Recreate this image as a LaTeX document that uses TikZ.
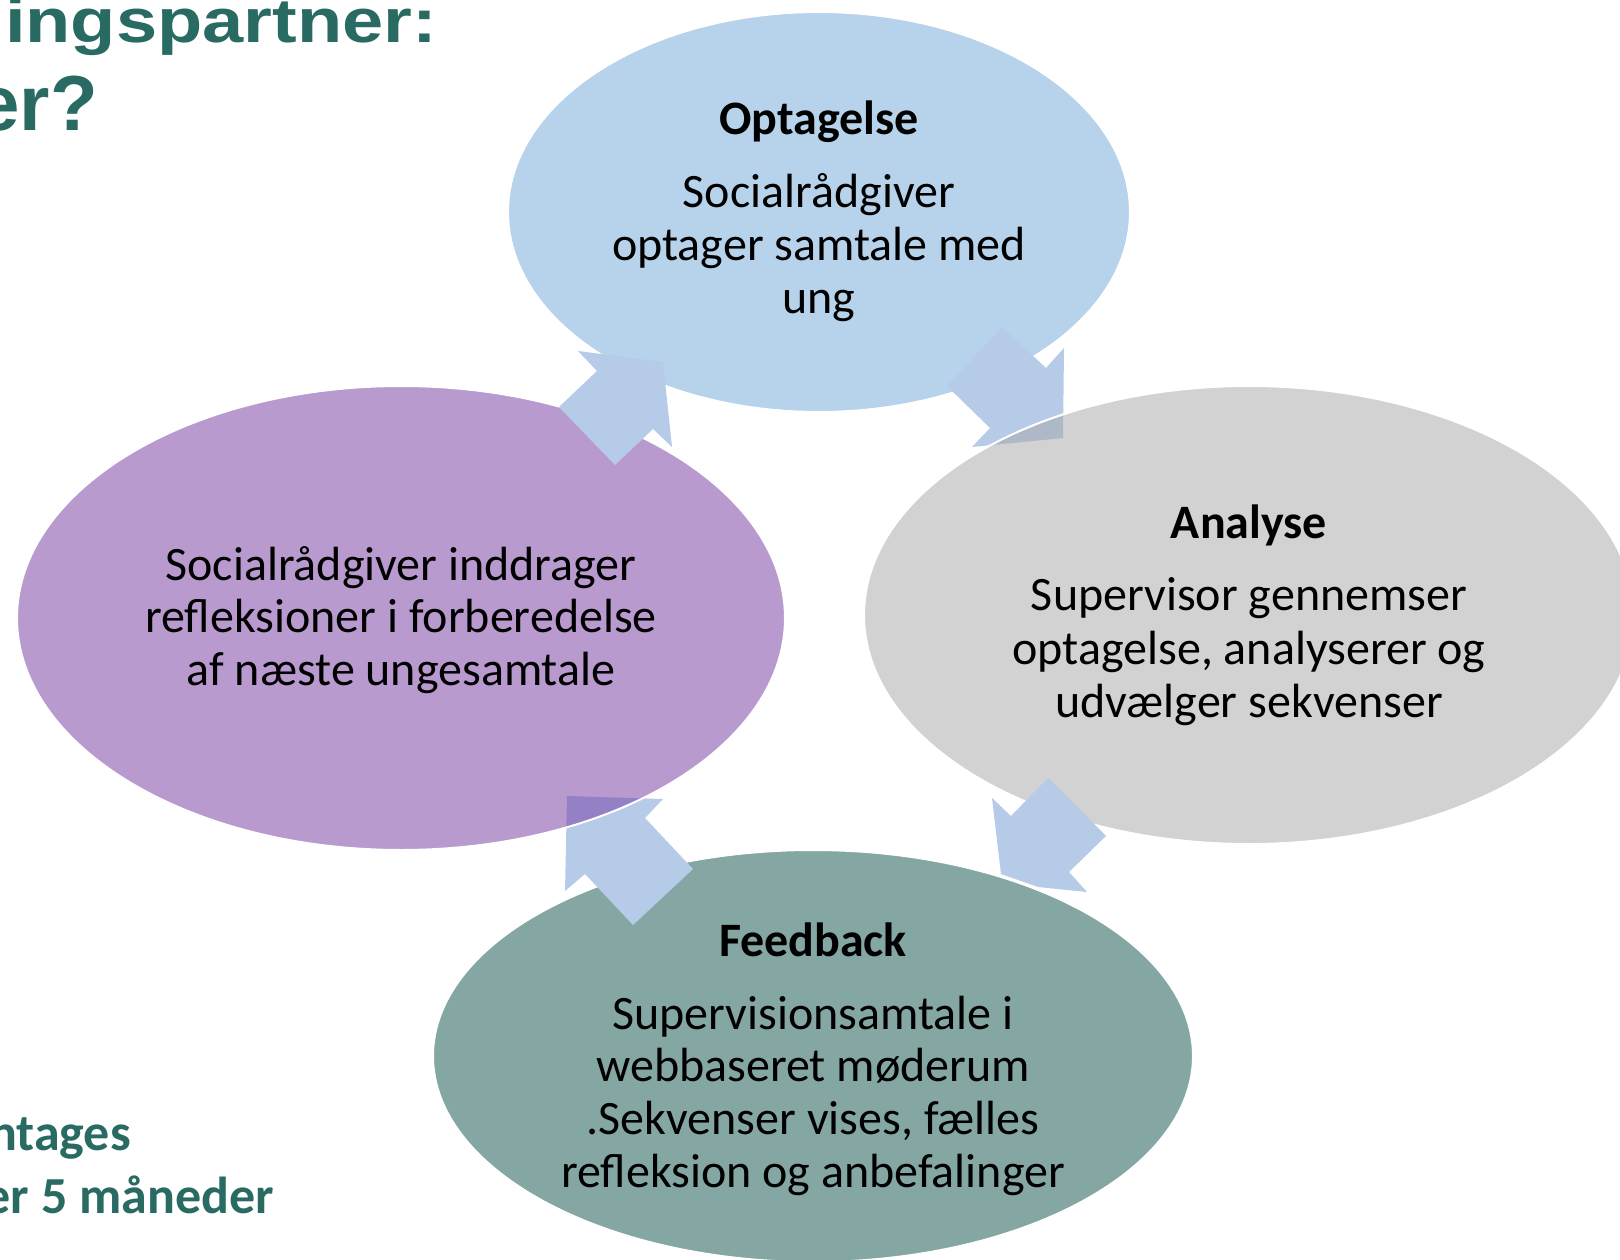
\documentclass[tikz,border=0pt]{standalone}
\usepackage{graphicx}
\usepackage{fontspec}
\setmainfont{Carlito}
\newfontfamily\titlefont{Liberation Sans}
\usetikzlibrary{shapes.geometric}
\definecolor{ttl}{RGB}{41,107,99}
\definecolor{optc}{RGB}{113,169,217}
\definecolor{anac}{RGB}{167,167,167}
\definecolor{feedc}{RGB}{13,81,73}
\definecolor{refc}{RGB}{115,55,161}
\definecolor{arrc}{RGB}{182,203,232}
\newcommand\cyclines[2]{\vtop{\baselineskip=#1\lineskiplimit=-100pt\halign{\hfil##\hfil\cr#2\crcr}}}
\begin{document}
\begin{tikzpicture}[x=1pt,y=-1pt,
  ell/.style={ellipse, inner sep=0pt, outer sep=0pt, draw=white, line width=2pt, fill opacity=0.5},
  txt/.style={inner sep=0pt, anchor=base, text=black, font=\fontsize{48pt}{53pt}\selectfont},
  arr/.style={fill=arrc},
  ttltxt/.style={inner sep=0pt, anchor=base east, text=ttl}]
\path[use as bounding box, fill=white] (0,0) rectangle (1620,1260);
\clip (0,0) rectangle (1620,1260);

% title fragments
\node[ttltxt, font=\titlefont\bfseries\fontsize{74pt}{80pt}\selectfont] (t1) at (437,43) {\scalebox{1}[0.84]{ingspartner:}};
\node[ttltxt, font=\titlefont\bfseries\fontsize{78pt}{80pt}\selectfont] (t2) at (98,131) {er?};
\node[ttltxt, font=\bfseries\fontsize{52pt}{63pt}\selectfont] (b1) at (131,1150) {ntages};
\node[ttltxt, font=\bfseries\fontsize{52pt}{63pt}\selectfont] (b2) at (274,1213) {er 5 måneder};

% Optagelse
\node[ell, fill=optc, minimum width=622, minimum height=400] (opt) at (819,212) {};
\node[txt] (optT) at (819,135) {\cyclines{53pt}{\bfseries Optagelse\cr\noalign{\vskip20pt}Socialrådgiver\cr optager samtale med\cr ung}};

% arrow Optagelse -> Analyse
\fill[arr] (1002,327) -- (1046,368) -- (1064,348) -- (1063,438) -- (972,447) -- (990,428) -- (947,386) -- cycle;

% Analyse
\node[ell, fill=anac, minimum width=770, minimum height=458] (ana) at (1249,615) {};
\node[txt] (anaT) at (1249,538) {\cyclines{53.5pt}{\bfseries Analyse\cr\noalign{\vskip19pt}Supervisor gennemser\cr optagelse, analyserer og\cr udvælger sekvenser}};

% arrow Analyse -> Feedback
\fill[arr] (1048,778) -- (1106,836) -- (1069,872) -- (1087,892) -- (1038,887) -- (1001,874) -- (992,798) -- (1011,816) -- cycle;

% Feedback
\node[ell, fill=feedc, minimum width=760, minimum height=412] (feed) at (813,1056) {};
\node[txt] (feedT) at (813,956) {\cyclines{52.7pt}{\bfseries Feedback\cr\noalign{\vskip20.3pt}Supervisionsamtale i\cr webbaseret møderum\cr .Sekvenser vises, fælles\cr refleksion og anbefalinger}};

% arrow Feedback -> Refleksion
\fill[arr] (567,796) -- (663,799) -- (645,818) -- (693,869) -- (633,925) -- (585,874) -- (565,891) -- cycle;

% Refleksion
\node[ell, fill=refc, minimum width=768, minimum height=464] (ref) at (401,618) {};
\node[txt] (refT) at (401,580) {\cyclines{52.5pt}{Socialrådgiver inddrager\cr refleksioner i forberedelse\cr af næste ungesamtale}};

% arrow Refleksion -> Optagelse
\fill[arr] (663,362) -- (672,447) -- (653,429) -- (615,465) -- (559,407) -- (597,371) -- (578,351) -- cycle;
\end{tikzpicture}
\end{document}
